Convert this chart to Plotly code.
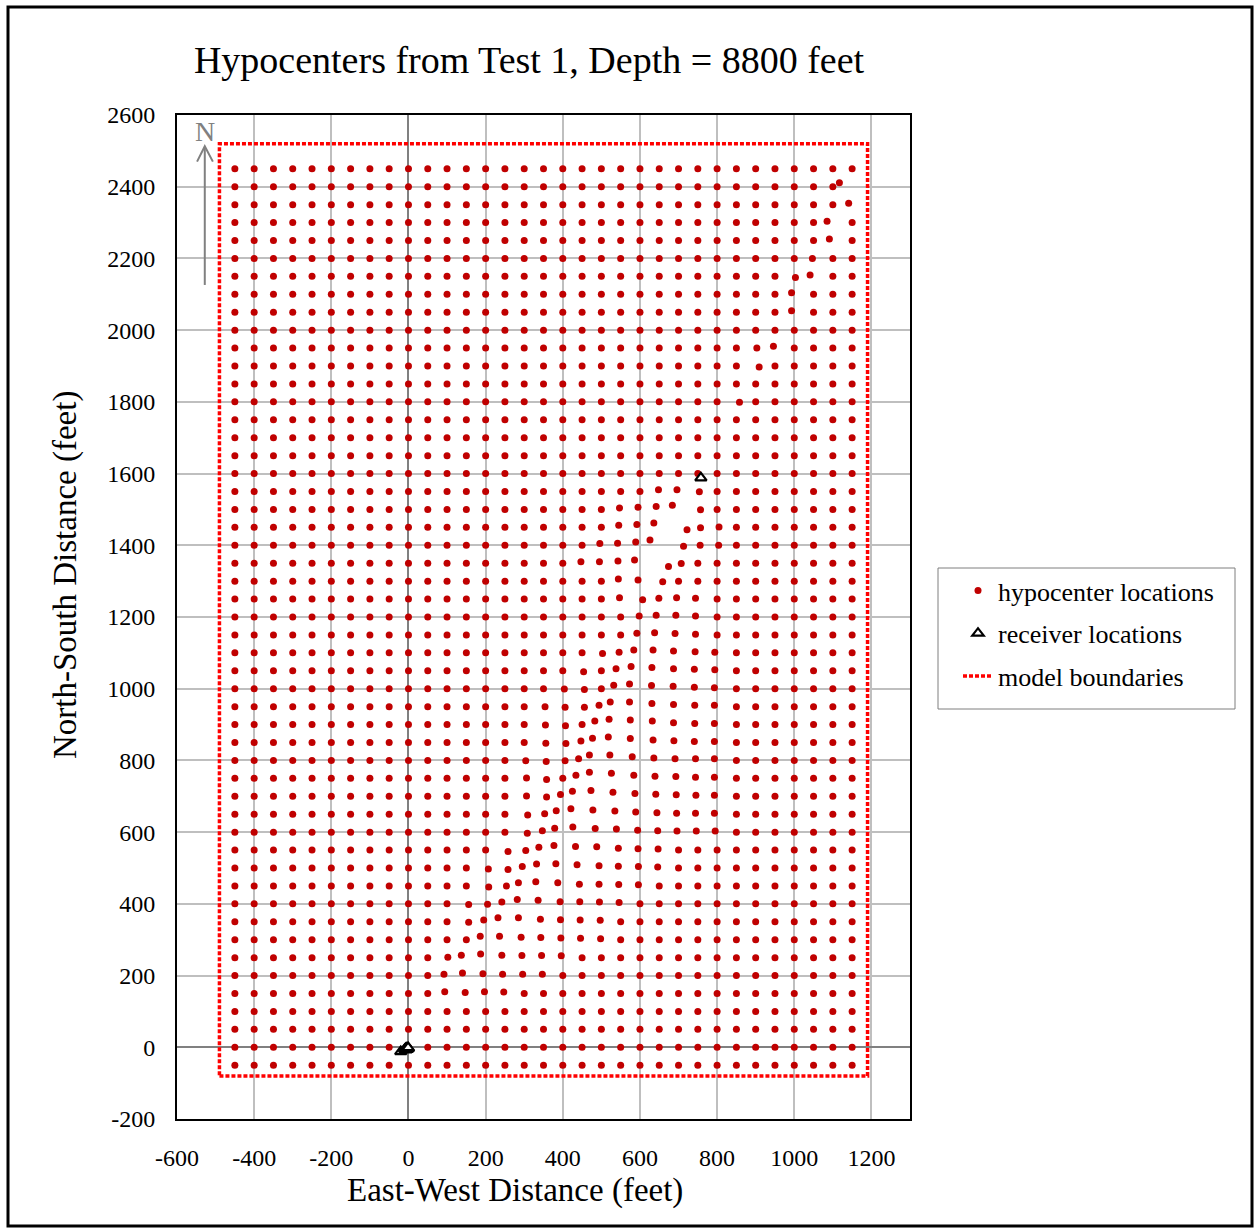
import plotly.graph_objects as go

# Nominal hypocenter grid nodes (feet)
grid_x_ft = [-450, -400, -350, -300, -250, -200, -150, -100, -50, 0, 50, 100,
             150, 200, 250, 300, 350, 400, 450, 500, 550, 600, 650, 700, 750,
             800, 850, 900, 950, 1000, 1050, 1100, 1150]
grid_y_ft = [-50, 0, 50, 100, 150, 200, 250, 300, 350, 400, 450, 500, 550,
             600, 650, 700, 750, 800, 850, 900, 950, 1000, 1050, 1100, 1150,
             1200, 1250, 1300, 1350, 1400, 1450, 1500, 1550, 1600, 1650, 1700,
             1750, 1800, 1850, 1900, 1950, 2000, 2050, 2100, 2150, 2200, 2250,
             2300, 2350, 2400, 2450]

# Located hypocenters that moved off their grid node:
# (node x, node y, located x, located y)
displaced_hypocenters = [
    (1150, 2400, 1117, 2411), (1150, 2350, 1141, 2354), (1100, 2300, 1085, 2304),
    (1100, 2250, 1091, 2254), (1050, 2200, 1047, 2200), (1050, 2150, 1041, 2154),
    (1000, 2150, 1003, 2147), (1000, 2100, 993, 2104), (1000, 2050, 993, 2054),
    (950, 1950, 946, 1955), (900, 1950, 903, 1950), (900, 1900, 909, 1897),
    (850, 1800, 858, 1799),
    (650, 1550, 648, 1555), (700, 1550, 696, 1555), (750, 1550, 754, 1549),
    (550, 1500, 547, 1504), (600, 1500, 595, 1506), (650, 1500, 642, 1508),
    (700, 1500, 684, 1512), (750, 1500, 757, 1499),
    (550, 1450, 545, 1456), (600, 1450, 592, 1458), (650, 1450, 636, 1462),
    (700, 1450, 722, 1443), (750, 1450, 757, 1449), (800, 1450, 805, 1451),
    (500, 1400, 496, 1405), (550, 1400, 542, 1406), (600, 1400, 589, 1409),
    (650, 1400, 626, 1415), (700, 1400, 713, 1397), (750, 1400, 756, 1400),
    (800, 1400, 804, 1400),
    (450, 1350, 447, 1354), (500, 1350, 495, 1354), (550, 1350, 543, 1356),
    (600, 1350, 586, 1359), (650, 1350, 674, 1341), (700, 1350, 707, 1349),
    (550, 1300, 544, 1306), (600, 1300, 595, 1303), (650, 1300, 659, 1298),
    (550, 1250, 547, 1254), (600, 1250, 607, 1248), (650, 1250, 649, 1252),
    (700, 1250, 695, 1254), (750, 1250, 744, 1252),
    (600, 1200, 598, 1203), (650, 1200, 642, 1205), (700, 1200, 693, 1205),
    (750, 1200, 744, 1203),
    (600, 1150, 592, 1155), (650, 1150, 638, 1156), (700, 1150, 691, 1154),
    (750, 1150, 744, 1152),
    (500, 1100, 503, 1098), (550, 1100, 546, 1102), (600, 1100, 584, 1108),
    (650, 1100, 634, 1108), (700, 1100, 687, 1105), (750, 1100, 743, 1103),
    (800, 1100, 794, 1102),
    (450, 1050, 454, 1047), (550, 1050, 538, 1056), (600, 1050, 577, 1062),
    (650, 1050, 631, 1059), (700, 1050, 687, 1056), (750, 1050, 741, 1054),
    (800, 1050, 794, 1053),
    (400, 1000, 404, 999), (450, 1000, 456, 998), (550, 1000, 532, 1010),
    (600, 1000, 573, 1013), (650, 1000, 630, 1009), (700, 1000, 686, 1007),
    (750, 1000, 741, 1004), (800, 1000, 793, 1003),
    (350, 950, 354, 950), (400, 950, 406, 948), (450, 950, 456, 948),
    (500, 950, 494, 954), (550, 950, 523, 963), (600, 950, 573, 963),
    (650, 950, 631, 959), (700, 950, 687, 956), (750, 950, 742, 954),
    (800, 950, 793, 954),
    (350, 900, 355, 899), (400, 900, 407, 897), (500, 900, 483, 910),
    (550, 900, 520, 915), (600, 900, 575, 913), (650, 900, 632, 910),
    (700, 900, 687, 905), (750, 900, 742, 903), (800, 900, 793, 903),
    (350, 850, 356, 848), (400, 850, 408, 847), (450, 850, 447, 854),
    (500, 850, 477, 862), (550, 850, 518, 865), (600, 850, 575, 861),
    (650, 850, 634, 857), (700, 850, 688, 855), (750, 850, 741, 853),
    (800, 850, 793, 853),
    (300, 800, 304, 799), (350, 800, 357, 797), (400, 800, 406, 799),
    (450, 800, 441, 805), (500, 800, 469, 815), (550, 800, 522, 815),
    (600, 800, 580, 810), (650, 800, 636, 807), (700, 800, 691, 805),
    (750, 800, 744, 805), (800, 800, 793, 805),
    (300, 750, 306, 751), (350, 750, 358, 747), (450, 750, 434, 759),
    (500, 750, 469, 767), (550, 750, 526, 764), (600, 750, 584, 759),
    (650, 750, 639, 756), (700, 750, 693, 755), (750, 750, 744, 753),
    (800, 750, 793, 753),
    (300, 700, 306, 701), (350, 700, 358, 698), (400, 700, 394, 705),
    (450, 700, 425, 714), (500, 700, 473, 716), (550, 700, 530, 711),
    (600, 700, 587, 708), (650, 700, 641, 706), (700, 700, 694, 704),
    (750, 700, 745, 703), (800, 700, 793, 703),
    (300, 650, 309, 648), (350, 650, 353, 651), (400, 650, 383, 660),
    (450, 650, 421, 665), (500, 650, 478, 662), (550, 650, 535, 659),
    (600, 650, 589, 656), (650, 650, 644, 654), (700, 650, 695, 653),
    (750, 650, 744, 653), (800, 650, 793, 653),
    (300, 600, 308, 597), (350, 600, 347, 604), (400, 600, 379, 611),
    (450, 600, 426, 614), (500, 600, 484, 610), (550, 600, 539, 609),
    (600, 600, 594, 605), (650, 600, 646, 604), (700, 600, 696, 603),
    (750, 600, 746, 603), (800, 600, 795, 603),
    (250, 550, 258, 546), (300, 550, 304, 549), (350, 550, 338, 558),
    (400, 550, 377, 563), (450, 550, 433, 560), (500, 550, 488, 559),
    (550, 550, 544, 555), (600, 550, 595, 554), (650, 550, 647, 553),
    (200, 500, 207, 497), (250, 500, 258, 496), (300, 500, 295, 504),
    (350, 500, 332, 511), (400, 500, 382, 512), (450, 500, 437, 509),
    (500, 500, 494, 506), (550, 500, 544, 505), (600, 500, 596, 504),
    (650, 500, 646, 503),
    (200, 450, 208, 447), (250, 450, 254, 450), (300, 450, 285, 459),
    (350, 450, 330, 462), (400, 450, 387, 459), (450, 450, 443, 455),
    (500, 450, 494, 455), (550, 450, 545, 454), (600, 450, 596, 453),
    (150, 400, 156, 398), (200, 400, 205, 399), (250, 400, 242, 405),
    (300, 400, 282, 412), (350, 400, 336, 410), (400, 400, 393, 406),
    (450, 400, 444, 406), (500, 400, 495, 405), (550, 400, 546, 404),
    (150, 350, 156, 349), (200, 350, 195, 355), (250, 350, 232, 361),
    (300, 350, 285, 361), (350, 350, 342, 357), (400, 350, 394, 356),
    (450, 350, 445, 355), (500, 350, 497, 354),
    (200, 300, 186, 310), (250, 300, 236, 310), (300, 300, 292, 307),
    (350, 300, 343, 306), (400, 300, 395, 305), (450, 300, 446, 304),
    (500, 300, 498, 303),
    (100, 250, 102, 251), (150, 250, 137, 257), (200, 250, 187, 260),
    (250, 250, 242, 257), (300, 250, 294, 256), (350, 250, 345, 256),
    (400, 250, 396, 255),
    (100, 200, 92, 204), (150, 200, 140, 207), (200, 200, 193, 205),
    (250, 200, 244, 204), (300, 200, 296, 204), (350, 200, 347, 204),
    (100, 150, 94, 155), (150, 150, 147, 153), (200, 150, 197, 155),
    (250, 150, 247, 154),
]

# Receiver array positions (feet); the lower array is tightly clustered
receiver_x = [758, -20, -10, -8, -6, -4, -2, -3, -6, -8, 0, -1]
receiver_y = [1588, -12, -6, -4, -2, -3, -4, -6, -7, -6, -3, -1]

# Model boundary corners (feet)
boundary_x = [-490, 1190, 1190, -490, -490]
boundary_y = [-80, -80, 2520, 2520, -80]

x_ticks = [-600, -400, -200, 0, 200, 400, 600, 800, 1000, 1200]
x_tick_text = ["-600", "-400", "-200", "0", "200", "400", "600", "800",
               "1000", "1200"]
y_ticks = [-200, 0, 200, 400, 600, 800, 1000, 1200, 1400, 1600, 1800, 2000,
           2200, 2400, 2600]
y_tick_text = ["-200", "0", "200", "400", "600", "800", "1000", "1200",
               "1400", "1600", "1800", "2000", "2200", "2400", "2600"]

moved = {(nx, ny): (lx, ly) for nx, ny, lx, ly in displaced_hypocenters}
hypo_x, hypo_y = [], []
for gy in grid_y_ft:
    for gx in grid_x_ft:
        px, py = moved.get((gx, gy), (gx, gy))
        hypo_x.append(px)
        hypo_y.append(py)

SERIF = "Liberation Serif, Times New Roman, serif"

# Plot-area geometry in pixels, used to place paper-referenced items
PL, PR, PT, PB = 177, 910, 115, 1119


def paper_x(px):
    return (px - PL) / (PR - PL)


def paper_y(py):
    return (PB - py) / (PB - PT)


fig = go.Figure()
fig.add_trace(go.Scatter(
    x=hypo_x, y=hypo_y, mode="markers", name="hypocenter locations",
    legendgroup="a",
    marker=dict(color="#C00000", size=7, line=dict(width=0)),
))
fig.add_trace(go.Scatter(
    x=receiver_x, y=receiver_y, mode="markers", name="receiver locations",
    legendgroup="b",
    marker=dict(symbol="triangle-up", color="white", size=10,
                line=dict(color="black", width=2.2)),
))
fig.add_trace(go.Scatter(
    x=boundary_x, y=boundary_y, mode="lines", name="model boundaries",
    legendgroup="c",
    line=dict(color="#FF0000", width=3.5, dash="4px,2px"),
))

# North arrow
arrow_x = -528
fig.add_shape(type="line", x0=arrow_x, x1=arrow_x, y0=2126, y1=2511,
              line=dict(color="#808080", width=2))
fig.add_shape(type="path",
              path=f"M {arrow_x - 20},2470 L {arrow_x},2513 L {arrow_x + 21},2470",
              line=dict(color="#808080", width=2))
fig.add_annotation(x=arrow_x, y=2553, text="N", showarrow=False,
                   font=dict(family=SERIF, size=28, color="#808080"))

# Legend frame
fig.add_shape(type="rect", xref="paper", yref="paper",
              x0=paper_x(938), x1=paper_x(1235), y0=paper_y(709), y1=paper_y(568),
              line=dict(color="#7F7F7F", width=1), fillcolor="white", layer="below")

# Outer frame around the whole figure
fig.add_shape(type="rect", xref="paper", yref="paper",
              x0=paper_x(8), x1=paper_x(1252), y0=paper_y(1226), y1=paper_y(7),
              line=dict(color="black", width=3))

# Axis titles
fig.add_annotation(xref="paper", yref="paper", x=paper_x(515), y=paper_y(1190),
                   text="East-West Distance (feet)", showarrow=False,
                   xanchor="center", yanchor="middle",
                   font=dict(family=SERIF, size=33, color="black"))
fig.add_annotation(xref="paper", yref="paper", x=paper_x(65), y=paper_y(575),
                   text="North-South Distance (feet)", showarrow=False,
                   textangle=-90, xanchor="center", yanchor="middle",
                   font=dict(family=SERIF, size=33, color="black"))

fig.update_layout(
    width=1259, height=1231,
    margin=dict(l=PL, r=1259 - PR, t=PT, b=1231 - PB),
    paper_bgcolor="white", plot_bgcolor="white",
    font=dict(family=SERIF, color="black"),
    title=dict(text="Hypocenters from Test 1, Depth = 8800 feet",
               xref="container", x=529 / 1259, xanchor="center",
               y=1 - 60 / 1231, yanchor="middle",
               font=dict(family=SERIF, size=38, color="black")),
    showlegend=True,
    legend=dict(x=paper_x(958), y=paper_y(567), xanchor="left", yanchor="top",
                bgcolor="rgba(0,0,0,0)", borderwidth=0,
                font=dict(family=SERIF, size=26, color="black"),
                tracegroupgap=6),
)
fig.update_xaxes(
    range=[-600, 1300], tickvals=x_ticks, ticktext=x_tick_text, ticks="",
    ticklabelstandoff=16,
    tickfont=dict(family=SERIF, size=24, color="black"),
    showgrid=True, gridcolor="#BFBFBF", gridwidth=2,
    zeroline=True, zerolinecolor="#808080", zerolinewidth=2,
    showline=True, linecolor="black", linewidth=2, mirror=True,
)
fig.update_yaxes(
    range=[-200, 2600], tickvals=y_ticks, ticktext=y_tick_text, ticks="",
    ticklabelstandoff=15,
    tickfont=dict(family=SERIF, size=24, color="black"),
    showgrid=True, gridcolor="#BFBFBF", gridwidth=2,
    zeroline=True, zerolinecolor="#808080", zerolinewidth=2,
    showline=True, linecolor="black", linewidth=2, mirror=True,
)

fig.write_html("out.html")
